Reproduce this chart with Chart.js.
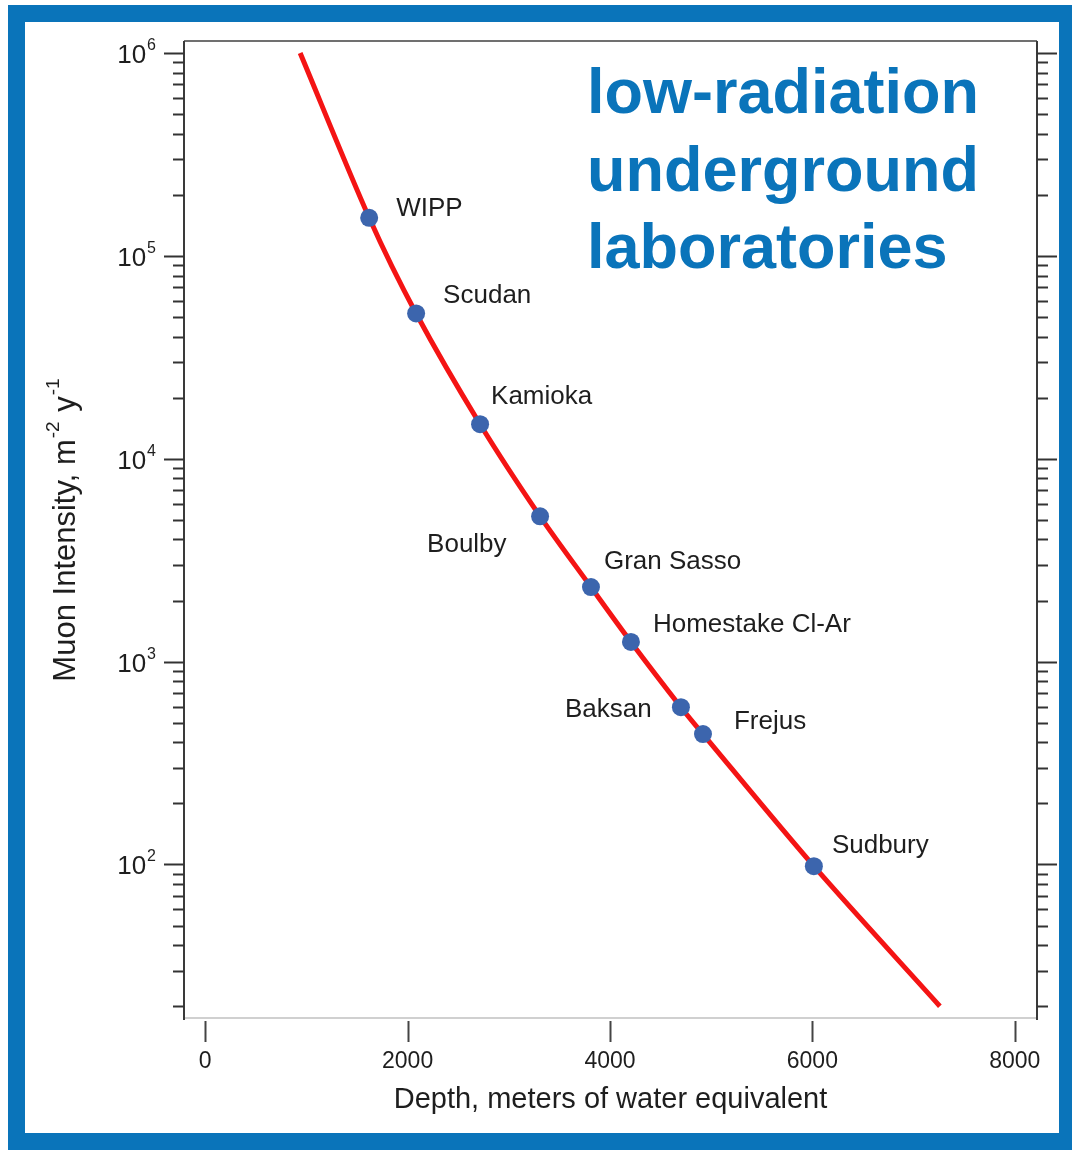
<!DOCTYPE html>
<html>
<head>
<meta charset="utf-8">
<script src="https://cdn.jsdelivr.net/npm/chart.js@4/dist/chart.umd.min.js"></script>
<style>
  html, body { margin: 0; padding: 0; background: #fff; }
  #wrap { position: relative; width: 1072px; height: 1150px; overflow: hidden; }
  #frame {
    position: absolute; left: 8px; top: 5px; width: 1064px; height: 1145px;
    box-sizing: border-box; border: 17px solid #0a74ba; border-right-width: 13px;
  }
  canvas { position: absolute; left: 0; top: 0; }
</style>
</head>
<body>
<div id="wrap">
  <div id="frame"></div>
  <canvas id="muonChart" width="1072" height="1150" style="width:1072px;height:1150px"></canvas>
</div>
<script>
// underground labs (depth in m.w.e., muon intensity m^-2 y^-1)
const labNames = ['WIPP', 'Scudan', 'Kamioka', 'Boulby', 'Gran Sasso', 'Homestake Cl-Ar', 'Baksan', 'Frejus', 'Sudbury'];
const labDepth = [1620, 2084, 2716, 3309, 3812, 4207, 4701, 4919, 6015];
const labIntensity = [1.54e5, 5.2e4, 1.48e4, 5.2e3, 2.33e3, 1.25e3, 596, 439, 98];

// red depth-intensity curve
const curveDepth = [938, 1620, 2084, 2716, 3309, 3812, 4207, 4701, 4919, 6015, 7260];
const curveIntensity = [1.0e6, 1.54e5, 5.2e4, 1.48e4, 5.2e3, 2.33e3, 1.25e3, 596, 439, 98, 20];

// axes
const xTicks = [0, 2000, 4000, 6000, 8000];
const yDecades = [1, 2, 3, 4, 5, 6];
const yLabelDecades = [2, 3, 4, 5, 6];
const xTitle = 'Depth, meters of water equivalent';
const headline = ['low-radiation', 'underground', 'laboratories'];

// label placement relative to each point (px)
const labelDx = [27, 27, 11, -113, 13, 22, -116, 31, 18];
const labelDy = [-9, -18, -27, 28, -25, -17, 3, -12, -20];

const FONT = '"Liberation Sans", Arial, Helvetica, sans-serif';
const TEXT = '#1e1e1e';

const axesPlugin = {
  id: 'axesPlugin',
  beforeDatasetsDraw(chart) {
    const { ctx, chartArea: a, scales } = chart;
    const y = scales.y;
    ctx.save();
    // frame lines
    ctx.lineWidth = 2;
    ctx.strokeStyle = '#d0d0d0';
    ctx.beginPath(); ctx.moveTo(a.left, a.bottom); ctx.lineTo(a.right, a.bottom); ctx.stroke();
    ctx.strokeStyle = '#707070';
    ctx.beginPath(); ctx.moveTo(a.left, a.top); ctx.lineTo(a.right, a.top); ctx.stroke();
    ctx.strokeStyle = '#3a3a3a';
    ctx.beginPath(); ctx.moveTo(a.left, a.top); ctx.lineTo(a.left, a.bottom + 2); ctx.stroke();
    ctx.beginPath(); ctx.moveTo(a.right, a.top); ctx.lineTo(a.right, a.bottom + 2); ctx.stroke();

    // y ticks, both sides, pointing out
    ctx.strokeStyle = '#333';
    ctx.lineWidth = 2;
    yDecades.forEach(d => {
      for (let m = 1; m <= 9; m++) {
        const v = m * Math.pow(10, d);
        if (v < y.min || v > y.max) continue;
        const py = Math.round(y.getPixelForValue(v)) + 0.5;
        const len = m === 1 ? 20 : 11;
        ctx.beginPath(); ctx.moveTo(a.left, py); ctx.lineTo(a.left - len, py); ctx.stroke();
        ctx.beginPath(); ctx.moveTo(a.right, py); ctx.lineTo(a.right + len, py); ctx.stroke();
      }
    });

    // x ticks below the axis
    ctx.strokeStyle = '#444';
    xTicks.forEach(t => {
      const px = Math.round(scales.x.getPixelForValue(t)) + 0.5;
      ctx.beginPath(); ctx.moveTo(px, a.bottom + 3); ctx.lineTo(px, a.bottom + 24); ctx.stroke();
    });
    ctx.restore();
  },
  afterDatasetsDraw(chart) {
    const { ctx } = chart;
    const meta = chart.getDatasetMeta(0);
    ctx.save();
    ctx.fillStyle = TEXT;
    ctx.font = '26px ' + FONT;
    ctx.textBaseline = 'middle';
    ctx.textAlign = 'left';
    meta.data.forEach((pt, i) => {
      ctx.fillText(labNames[i], pt.x + labelDx[i], pt.y + labelDy[i]);
    });
    ctx.restore();
  },
  afterDraw(chart) {
    const { ctx, chartArea: a, scales } = chart;
    ctx.save();
    ctx.fillStyle = TEXT;

    // y tick labels 10^n
    yLabelDecades.forEach(d => {
      const py = scales.y.getPixelForValue(Math.pow(10, d));
      ctx.font = '16px ' + FONT;
      const w2 = ctx.measureText(String(d)).width;
      ctx.font = '26px ' + FONT;
      const w1 = ctx.measureText('10').width;
      const x2 = a.left - 28 - w2;
      ctx.textAlign = 'left';
      ctx.textBaseline = 'alphabetic';
      ctx.fillText('10', x2 - w1 - 1, py + 10);
      ctx.font = '16px ' + FONT;
      ctx.fillText(String(d), x2, py - 3);
    });

    // x tick labels
    ctx.font = '23px ' + FONT;
    ctx.textAlign = 'center';
    ctx.textBaseline = 'middle';
    xTicks.forEach(t => ctx.fillText(String(t), scales.x.getPixelForValue(t), a.bottom + 44));

    // x title
    ctx.font = '29px ' + FONT;
    ctx.fillText(xTitle, (a.left + a.right) / 2, a.bottom + 82);

    // y title with superscripts
    const parts = [['Muon Intensity, m', 31, 0], ['-2', 19, -12], [' y', 31, 0], ['-1', 19, -12]];
    let total = 0;
    parts.forEach(p => { ctx.font = p[1] + 'px ' + FONT; total += ctx.measureText(p[0]).width + (p[1] < 31 ? 2 : 0); });
    ctx.translate(66, (a.top + a.bottom) / 2);
    ctx.rotate(-Math.PI / 2);
    ctx.textAlign = 'left';
    let cx = -total / 2;
    parts.forEach(p => {
      ctx.font = p[1] + 'px ' + FONT;
      ctx.fillText(p[0], cx + (p[1] < 31 ? 1 : 0), p[2]);
      cx += ctx.measureText(p[0]).width + (p[1] < 31 ? 2 : 0);
    });
    ctx.restore();

    // headline
    ctx.save();
    ctx.fillStyle = '#0a74ba';
    ctx.font = 'bold 63px ' + FONT;
    ctx.textAlign = 'left';
    ctx.textBaseline = 'alphabetic';
    headline.forEach((line, i) => ctx.fillText(line, 587, 113 + i * 77.5));
    ctx.restore();
  }
};

new Chart(document.getElementById('muonChart'), {
  type: 'line',
  data: {
    datasets: [
      {
        label: 'Laboratories',
        data: labDepth.map((d, i) => ({ x: d, y: labIntensity[i] })),
        showLine: false,
        pointRadius: 9,
        pointBackgroundColor: '#3c65ad',
        pointBorderWidth: 0,
        order: 0
      },
      {
        label: 'Muon intensity',
        data: curveDepth.map((d, i) => ({ x: d, y: curveIntensity[i] })),
        borderColor: '#f41414',
        borderWidth: 5,
        pointRadius: 0,
        tension: 0.3,
        fill: false,
        order: 1
      }
    ]
  },
  options: {
    responsive: false,
    animation: false,
    devicePixelRatio: 1,
    layout: { padding: { left: 184, right: 35, top: 41, bottom: 132 } },
    scales: {
      x: { type: 'linear', min: -210, max: 8220, display: false },
      y: { type: 'logarithmic', min: 17.5, max: 1.146e6, display: false }
    },
    plugins: {
      legend: { display: false },
      tooltip: { enabled: false }
    }
  },
  plugins: [axesPlugin]
});
</script>
</body>
</html>
